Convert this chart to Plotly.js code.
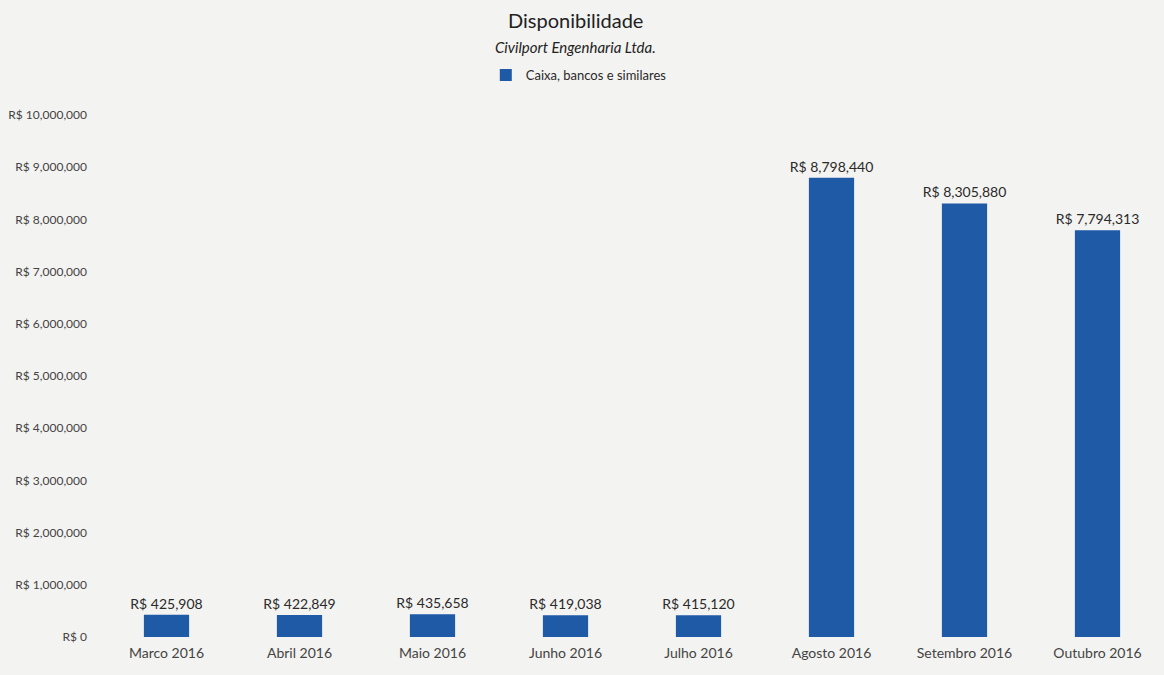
<!DOCTYPE html>
<html>
<head>
<meta charset="utf-8">
<script src="https://cdn.plot.ly/plotly-3.0.1.min.js"></script>
<style>
html,body{margin:0;padding:0;background:#f3f3f1;}
#chart{width:1164px;height:675px;}
</style>
</head>
<body>
<div id="chart"></div>
<script>
const categories = ["Marco 2016","Abril 2016","Maio 2016","Junho 2016","Julho 2016","Agosto 2016","Setembro 2016","Outubro 2016"];
const caixaValues = [425908, 422849, 435658, 419038, 415120, 8798440, 8305880, 7794313];
const seriesName = "Caixa, bancos e similares";
const chartTitle = "Disponibilidade";
const chartSubtitle = "Civilport Engenharia Ltda.";
const tickValues = [0,1000000,2000000,3000000,4000000,5000000,6000000,7000000,8000000,9000000,10000000];
const tickLabels = ["R$ 0","R$ 1,000,000","R$ 2,000,000","R$ 3,000,000","R$ 4,000,000","R$ 5,000,000","R$ 6,000,000","R$ 7,000,000","R$ 8,000,000","R$ 9,000,000","R$ 10,000,000"];

const font = "Lato, 'Open Sans', sans-serif";
const trace = {
  type: "bar",
  x: categories,
  y: caixaValues,
  name: seriesName,
  marker: {color: "#1f5aa6"},
  texttemplate: "R$ %{y:,d}",
  textposition: "outside",
  constraintext: "none",
  cliponaxis: false,
  textfont: {family: font, size: 14, color: "#2a2a2a"},
  showlegend: true
};
const layout = {
  width: 1164, height: 675,
  paper_bgcolor: "#f3f3f1", plot_bgcolor: "#f3f3f1",
  margin: {l: 100, r: 0, t: 115, b: 38},
  bargap: 0.66,
  font: {family: font, color: "#333333"},
  annotations: [
    {text: chartTitle, xref: "paper", yref: "paper", x: 0.447, y: 1.0 + (115-20)/522, xanchor: "center", yanchor: "middle",
     showarrow: false, font: {family: font, size: 20, color: "#222222"}},
    {text: "<i>" + chartSubtitle + "</i>", xref: "paper", yref: "paper", x: 0.447, y: 1.0 + (115-47)/522, xanchor: "center", yanchor: "middle",
     showarrow: false, font: {family: font, size: 15, color: "#222222"}}
  ],
  legend: {
    orientation: "h", x: 0.45, xanchor: "center", y: 1.0 + (115-75)/522, yanchor: "middle",
    font: {family: font, size: 13, color: "#2a2a2a"}, bgcolor: "rgba(0,0,0,0)", itemwidth: 30
  },
  xaxis: {
    showgrid: false, zeroline: false, showline: false,
    tickfont: {family: font, size: 14, color: "#444444"}, ticks: "", ticklen: 0, ticklabelstandoff: 6
  },
  yaxis: {
    range: [0, 10000000], tickvals: tickValues, ticktext: tickLabels,
    showgrid: false, zeroline: false, showline: false,
    tickfont: {family: font, size: 12, color: "#444444"}, ticks: "", ticklabelstandoff: 12
  }
};
Plotly.newPlot("chart", [trace], layout, {displayModeBar: false, staticPlot: true});
</script>
</body>
</html>
